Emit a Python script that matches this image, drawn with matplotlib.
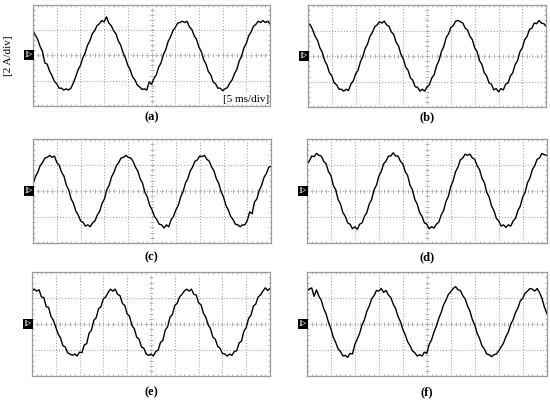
import numpy as np
import matplotlib.pyplot as plt
from matplotlib import font_manager

# scope samples, 0.5 ms apart over 10 div x 5 ms/div
t_ms = np.arange(0, 50.5, 0.5)

i_a = [1.95, 1.60, 1.25, 0.70, 0.30, -0.60, -0.70, -1.25, -1.60, -2.05,
       -2.25, -2.60, -2.60, -2.75, -2.65, -2.75, -2.60, -2.20, -1.70, -1.15,
       -0.80, -0.20, 0.20, 0.80, 1.15, 1.70, 1.95, 2.35, 2.50, 2.75,
       2.65, 3.05, 2.55, 2.35, 1.95, 1.70, 1.15, 0.80, 0.20, -0.20,
       -0.80, -1.15, -1.70, -1.95, -2.35, -2.50, -2.70, -2.65, -2.75, -2.10,
       -2.30, -1.85, -1.55, -0.95, -0.60, 0.05, 0.45, 1.10, 1.45, 1.95,
       2.20, 2.55, 2.60, 2.70, 2.60, 2.70, 2.25, 2.05, 1.55, 1.25,
       0.65, 0.30, -0.35, -0.70, -1.30, -1.55, -2.10, -2.25, -2.60, -2.60,
       -2.80, -2.65, -2.55, -2.20, -1.95, -1.45, -1.10, -0.45, -0.05, 0.60,
       0.95, 1.55, 1.85, 2.30, 2.45, 2.70, 2.60, 2.75, 2.60, 2.70, 2.50]

i_b = [2.60, 2.45, 2.05, 1.55, 1.25, 0.65, 0.30, -0.35, -0.70, -1.30,
       -1.55, -2.10, -2.25, -2.60, -2.60, -2.75, -2.60, -2.70, -2.20, -1.95,
       -1.40, -1.10, -0.45, -0.05, 0.60, 0.95, 1.55, 1.85, 2.30, 2.45,
       2.70, 2.60, 2.75, 2.45, 2.35, 1.90, 1.70, 1.10, 0.80, 0.15,
       -0.20, -0.85, -1.10, -1.70, -1.90, -2.40, -2.45, -2.75, -2.60, -2.75,
       -2.40, -2.25, -1.70, -1.45, -0.75, -0.35, 0.35, 0.75, 1.45, 1.75,
       2.25, 2.40, 2.75, 2.80, 2.70, 2.60, 2.20, 2.05, 1.55, 1.30,
       0.65, 0.35, -0.35, -0.65, -1.30, -1.55, -2.10, -2.20, -2.65, -2.55,
       -2.80, -2.55, -2.65, -2.20, -2.10, -1.55, -1.30, -0.65, -0.35, 0.35,
       0.65, 1.30, 1.55, 2.10, 2.20, 2.60, 2.55, 2.80, 2.60, 2.55, 2.35]

i_c = [0.55, 1.10, 1.45, 1.95, 2.20, 2.55, 2.60, 2.75, 2.60, 2.70,
       2.20, 2.00, 1.45, 1.15, 0.45, 0.10, -0.60, -0.95, -1.55, -1.85,
       -2.30, -2.40, -2.70, -2.60, -2.75, -2.45, -2.30, -1.85, -1.55, -0.95,
       -0.60, 0.10, 0.45, 1.10, 1.45, 1.95, 2.20, 2.55, 2.60, 2.75,
       2.60, 2.55, 2.30, 1.85, 1.55, 0.95, 0.60, -0.10, -0.45, -1.10,
       -1.45, -1.95, -2.20, -2.55, -2.60, -2.85, -2.60, -2.75, -2.20, -1.95,
       -1.45, -1.10, -0.45, -0.05, 0.60, 0.95, 1.55, 1.85, 2.30, 2.40,
       2.70, 2.65, 2.75, 2.45, 2.30, 1.85, 1.55, 0.95, 0.60, -0.05,
       -0.45, -1.10, -1.45, -1.95, -2.20, -2.55, -2.60, -2.75, -2.60, -2.60,
       -2.25, -1.60, -1.75, -0.85, -0.60, 0.05, 0.45, 1.05, 1.35, 1.85, 1.90]

i_d = [2.10, 2.30, 2.70, 2.65, 2.90, 2.75, 2.70, 2.30, 2.10, 1.50,
       1.20, 0.45, 0.10, -0.65, -1.00, -1.65, -1.95, -2.45, -2.55, -2.90,
       -2.75, -2.95, -2.55, -2.45, -1.95, -1.65, -1.00, -0.65, 0.10, 0.45,
       1.15, 1.50, 2.10, 2.30, 2.70, 2.70, 2.95, 2.70, 2.70, 2.30,
       2.10, 1.50, 1.20, 0.45, 0.10, -0.65, -1.00, -1.65, -1.95, -2.45,
       -2.55, -2.90, -2.75, -2.85, -2.55, -2.40, -1.85, -1.50, -0.80, -0.40,
       0.35, 0.80, 1.50, 1.85, 2.40, 2.55, 2.85, 2.75, 2.85, 2.55,
       2.45, 1.95, 1.65, 1.00, 0.65, -0.10, -0.45, -1.15, -1.50, -2.10,
       -2.30, -2.70, -2.60, -2.80, -2.60, -2.70, -2.30, -2.10, -1.50, -1.15,
       -0.45, -0.10, 0.65, 1.00, 1.65, 1.95, 2.45, 2.55, 2.90, 2.80, 2.75]

i_e = [2.55, 2.70, 2.55, 2.65, 2.10, 2.05, 1.35, 1.30, 0.60, 0.30,
       -0.20, -0.75, -1.05, -1.65, -1.75, -2.20, -2.30, -2.40, -2.30, -2.45,
       -2.15, -2.20, -1.60, -1.50, -0.70, -0.45, 0.30, 0.50, 1.20, 1.35,
       1.95, 2.10, 2.45, 2.70, 2.55, 2.70, 2.30, 2.20, 1.60, 1.45,
       0.80, 0.60, -0.10, -0.35, -1.00, -1.15, -1.75, -1.85, -2.30, -2.40,
       -2.30, -2.45, -2.10, -2.00, -1.40, -1.25, -0.45, -0.20, 0.55, 0.75,
       1.45, 1.60, 2.10, 2.30, 2.55, 2.70, 2.55, 2.70, 2.30, 2.25,
       1.65, 1.50, 0.85, 0.55, -0.05, -0.35, -1.00, -1.15, -1.70, -1.85,
       -2.25, -2.30, -2.45, -2.30, -2.40, -2.10, -2.05, -1.45, -1.30, -0.55,
       -0.25, 0.45, 0.70, 1.40, 1.55, 2.10, 2.25, 2.55, 2.80, 2.60, 2.75]

i_f = [2.55, 2.70, 2.80, 2.15, 2.65, 2.15, 1.85, 1.20, 0.80, 0.15,
       -0.35, -1.00, -1.40, -1.90, -2.10, -2.45, -2.40, -2.55, -2.25, -2.30,
       -1.55, -1.15, -0.70, -0.05, 0.35, 1.00, 1.40, 1.95, 2.20, 2.60,
       2.55, 2.75, 2.45, 2.60, 2.25, 2.05, 1.55, 1.20, 0.60, 0.20,
       -0.40, -0.80, -1.35, -1.65, -2.05, -2.20, -2.45, -2.35, -2.45, -2.15,
       -2.25, -1.55, -1.20, -0.60, -0.15, 0.45, 0.90, 1.50, 1.85, 2.30,
       2.50, 2.75, 2.90, 2.65, 2.60, 2.20, 1.95, 1.40, 1.00, 0.35,
       -0.05, -0.70, -1.10, -1.65, -1.90, -2.30, -2.35, -2.50, -2.35, -2.30,
       -2.05, -1.75, -1.45, -0.95, -0.60, 0.00, 0.35, 0.90, 1.25, 1.80,
       2.00, 2.40, 2.55, 2.75, 2.70, 2.55, 2.75, 2.45, 2.00, 1.35, 0.85]

labels = ['(a)', '(b)', '(c)', '(d)', '(e)', '(f)']

# Times-like face for the captions
names = sorted({f.name for f in font_manager.fontManager.ttflist})
serif = next((n for n in names if n.startswith('Liberation Serif')), 'DejaVu Serif')
plt.rcParams['font.family'] = [serif, 'DejaVu Serif']
GRID = '#a8a8a8'

fig = plt.figure(figsize=(5.5, 4.01), dpi=100)

boxes = [[0.060, 0.736, 0.431, 0.252], [0.560, 0.733, 0.433, 0.254],
         [0.060, 0.394, 0.433, 0.259], [0.558, 0.394, 0.436, 0.259],
         [0.058, 0.062, 0.433, 0.259], [0.558, 0.062, 0.436, 0.259]]
label_pos = [(0.276, 0.708), (0.776, 0.708), (0.276, 0.359),
             (0.776, 0.359), (0.276, 0.022), (0.776, 0.022)]


def scope_panel(ax, current):
    ax.set_xlim(0, 50)
    ax.set_ylim(-4, 4)
    ax.set_xticks(np.arange(0, 51, 5))
    ax.set_yticks(np.arange(-4, 5, 2))
    ax.set_xticks(np.arange(0, 51, 1), minor=True)
    ax.set_yticks(np.arange(-4, 4.01, 0.4), minor=True)
    ax.tick_params(which='both', direction='in', top=True, right=True,
                   labelbottom=False, labelleft=False, colors=GRID, width=0.6)
    ax.tick_params(which='major', length=0)
    ax.tick_params(which='minor', length=1.6)
    ax.grid(which='major', linestyle=':', color=GRID, linewidth=0.8)
    # small marks on the centre cross
    xs = np.arange(0, 51, 1)
    ax.plot(xs, np.zeros(len(xs)), ls='none', marker='|', ms=3, mew=0.6, color=GRID)
    ys = np.arange(-4, 4.01, 0.4)
    ax.plot(np.full(len(ys), 25), ys, ls='none', marker='_', ms=3, mew=0.6, color=GRID)
    for s in ax.spines.values():
        s.set_color('#9a9a9a')
        s.set_linewidth(0.9)
    ax.plot(t_ms, current, color='black', lw=1.0)
    ax.annotate('1>', xy=(0, 0), xycoords='data', ha='right', va='center',
                color='white', fontsize=5.5, fontweight='bold',
                bbox=dict(boxstyle='square,pad=0.12', fc='black', ec='none'),
                annotation_clip=False)


for cur, box, lab, pos in zip([i_a, i_b, i_c, i_d, i_e, i_f], boxes, labels, label_pos):
    ax = fig.add_axes(box)
    scope_panel(ax, cur)
    fig.text(pos[0], pos[1], lab, ha='center', va='center', fontsize=9, fontweight='bold')
    if lab == '(a)':
        ax.text(0.995, 0.02, '[5 ms/div]', transform=ax.transAxes, ha='right', va='bottom',
                fontsize=8, bbox=dict(boxstyle='square,pad=0.05', fc='white', ec='none'))

fig.text(0.016, 0.86, '[2 A/div]', rotation=90, ha='center', va='center', fontsize=8)

fig.savefig('out.png', dpi=100)
